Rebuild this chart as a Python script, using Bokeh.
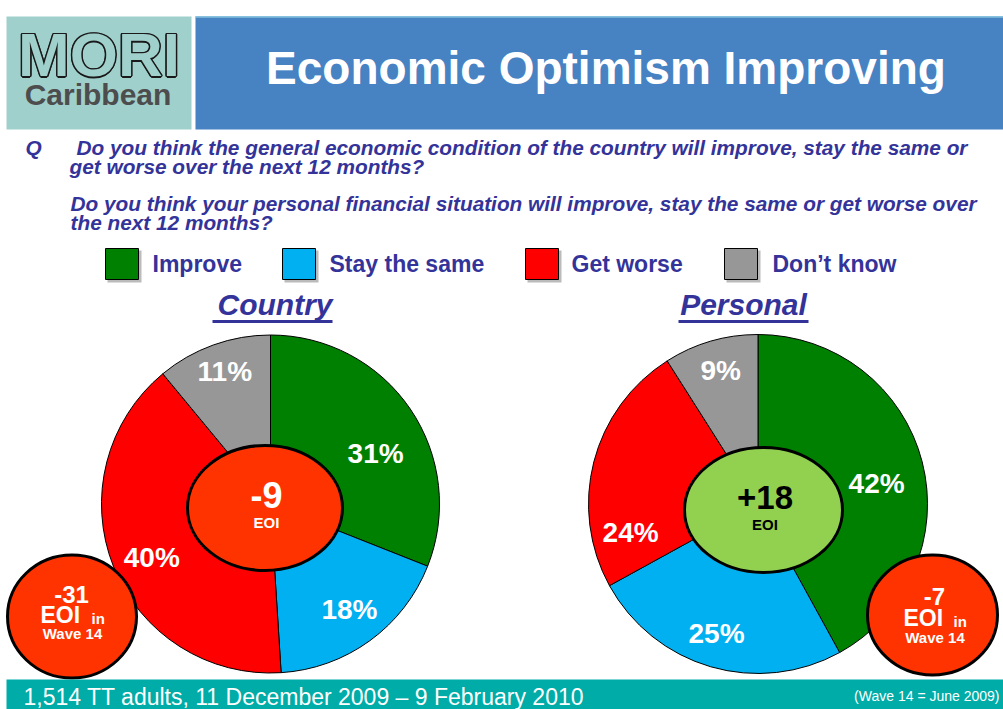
import math
from bokeh.plotting import figure
from bokeh.models import Range1d
from bokeh.core.properties import value
from bokeh.embed import file_html
from bokeh.resources import INLINE

# ---------------- data ----------------
categories = ["Improve", "Stay the same", "Get worse", "Don\u2019t know"]
slice_colors = ["#008000", "#00B0F0", "#FF0000", "#979797"]
country = [31, 18, 40, 11]
personal = [42, 25, 24, 9]
eoi_wave14 = [-31, -7]
pie_titles = ["Country", "Personal"]
title = "Economic Optimism Improving"
questions = [
    "Do you think the general economic condition of the country will improve, stay the same or",
    "get worse over the next 12 months?",
    "Do you think your personal financial situation will improve, stay the same or get worse over",
    "the next 12 months?",
]
footer = "1,514 TT adults, 11 December 2009 \u2013 9 February 2010"
footnote = "(Wave 14 = June 2009)"

# ---------------- layout ----------------
W, H = 1003, 709
FONT = "Liberation Sans"
QCOL = "#333399"


def Y(v):
    return H - v


p = figure(width=W, height=H, x_range=Range1d(0, W), y_range=Range1d(0, H),
           output_backend="svg", toolbar_location=None, min_border=0,
           x_axis_location=None, y_axis_location=None)
p.outline_line_color = None
p.grid.visible = False
p.background_fill_color = "white"
p.border_fill_color = "white"


def txt(x, y, s, size, color="white", style="bold", align="center"):
    p.text(x=[x], y=[Y(y)], text=[s], text_font=value(FONT), text_font_size=f"{size}px",
           text_font_style=style, text_color=color, text_align=align, text_baseline="middle")


# header boxes
p.quad(left=[6], right=[191], top=[Y(16)], bottom=[Y(129)], fill_color="#A0D0CC", line_color=None)
p.quad(left=[195], right=[W + 5], top=[Y(16)], bottom=[Y(129)], fill_color="#4782C3", line_color=None)
p.segment(x0=[195], x1=[W + 5], y0=[Y(16.5)], y1=[Y(16.5)], line_color="#7FC0DC", line_width=1.5)

# MORI outlined logo
for dx, dy in [(-1.5, 0), (1.5, 0), (0, -1.5), (0, 1.5), (-1.1, -1.1), (1.1, 1.1), (-1.1, 1.1), (1.1, -1.1)]:
    p.text(x=[98.5 + dx], y=[Y(54) + dy], text=["MORI"], text_font=value(FONT), text_font_size="62px",
           text_font_style="bold", text_color="#1a1a1a", text_align="center", text_baseline="middle")
p.text(x=[98.5], y=[Y(54)], text=["MORI"], text_font=value(FONT), text_font_size="62px",
       text_font_style="bold", text_color="#A0D0CC", text_align="center", text_baseline="middle")
txt(97.5, 93.5, "Caribbean", 30, color="#4D4D4D")

# title
txt(605.5, 67.5, title, 46)

# questions
QFS = 20.8
txt(25, 146.5, "Q", QFS, color=QCOL, style="bold italic", align="left")
q_pos = [(76, 146.5), (69, 165.5), (70, 202.5), (70, 221.5)]
for (qx, qy), q in zip(q_pos, questions):
    txt(qx, qy, q, QFS, color=QCOL, style="bold italic", align="left")

# legend
leg_sq = [105, 282, 525, 724]
leg_tx = [152, 329, 571, 772]
for sx, tx, c, lab in zip(leg_sq, leg_tx, slice_colors, categories):
    p.quad(left=[sx + 2], right=[sx + 36], top=[Y(250)], bottom=[Y(282)], fill_color="#BBBBBB", line_color=None)
    p.quad(left=[sx], right=[sx + 33], top=[Y(248)], bottom=[Y(279)], fill_color=c, line_color="black", line_width=1)
    txt(tx, 263.5, lab, 23, color=QCOL, align="left")

# pies
pie_cx = [270, 757.5]
pie_cy = [503.5, 503.5]
pie_r = [169, 169.5]
label_r = [[0.69, 0.78, 0.77, 0.83], [0.71, 0.80, 0.77, 0.82]]
label_nudge = [[8.5, -0.8, -2.6, 0.8], [4.6, 1.6, -27.0, 0.6]]
title_x = [274.5, 743]
under_x = [(212, 332), (678, 808)]

for k, vals in enumerate([country, personal]):
    tot = float(sum(vals))
    cx, cy, r = pie_cx[k], Y(pie_cy[k]), pie_r[k]
    cum = 0.0
    starts, ends, mids = [], [], []
    for v in vals:
        a0 = cum / tot
        cum += v
        a1 = cum / tot
        starts.append(math.pi / 2 - 2 * math.pi * a0)
        ends.append(math.pi / 2 - 2 * math.pi * a1)
        mids.append(360 * (a0 + a1) / 2)
    p.wedge(x=[cx] * len(vals), y=[cy] * len(vals), radius=r, start_angle=starts, end_angle=ends,
            direction="clock", fill_color=slice_colors, line_color="black", line_width=1)
    for i, v in enumerate(vals):
        ang = math.radians(mids[i] + label_nudge[k][i])
        lx = cx + label_r[k][i] * r * math.sin(ang)
        ly = cy + label_r[k][i] * r * math.cos(ang)
        p.text(x=[lx], y=[ly], text=[f"{v}%"], text_font=value(FONT), text_font_size="28px",
               text_font_style="bold", text_color="white", text_align="center", text_baseline="middle")
    # titles
    txt(title_x[k], 304, pie_titles[k], 30, color=QCOL, style="bold italic")
    p.quad(left=[under_x[k][0]], right=[under_x[k][1]], top=[Y(319.5)], bottom=[Y(322.5)],
           fill_color=QCOL, line_color=None)

# inner EOI ellipses
eoi_now = [country[0] - country[2], personal[0] - personal[2]]
inner = [(264.5, 507.5, 155, 125, "#FF3300", "white", 36, 494, 521.5),
         (763, 509.5, 158, 125, "#92D050", "black", 33, 497, 523.5)]
for (ex, ey, ew, eh, fc, tc, fs, b1, b2), e in zip(inner, eoi_now):
    p.ellipse(x=[ex], y=[Y(ey)], width=ew, height=eh, fill_color=fc, line_color="black", line_width=3)
    txt(ex + 1.5, b1, f"{e:+d}", fs, color=tc)
    txt(ex + 1.5, b2, "EOI", 15, color=tc)

# wave 14 circles
small = [(71.5, 616, 129, 123, 71, 593.5, 40, 91, 614.7, 617.6, 72, 632.6),
         (932, 614.5, 130, 120, 934, 595.5, 903, 953, 617.7, 620.6, 934.5, 636.6)]
for (cx, cy, cw, ch, vx, vy, ex, ix, eb, ib, wx, wb), w in zip(small, eoi_wave14):
    p.ellipse(x=[cx], y=[Y(cy)], width=cw, height=ch, fill_color="#FF3300", line_color="black", line_width=3)
    txt(vx, vy, f"{w:+d}", 24)
    txt(ex, eb, "EOI", 23, align="left")
    txt(ix, ib, "in", 15, align="left")
    txt(wx, wb, "Wave 14", 15)

# footer bar
p.quad(left=[6], right=[W + 5], top=[Y(679)], bottom=[Y(H + 5)], fill_color="#00ACA7", line_color=None)
txt(23, 696.5, footer, 23, style="normal", align="left")
txt(999, 695.5, footnote, 14, style="normal", align="right")

open("out.html", "w").write(file_html(p, INLINE))
